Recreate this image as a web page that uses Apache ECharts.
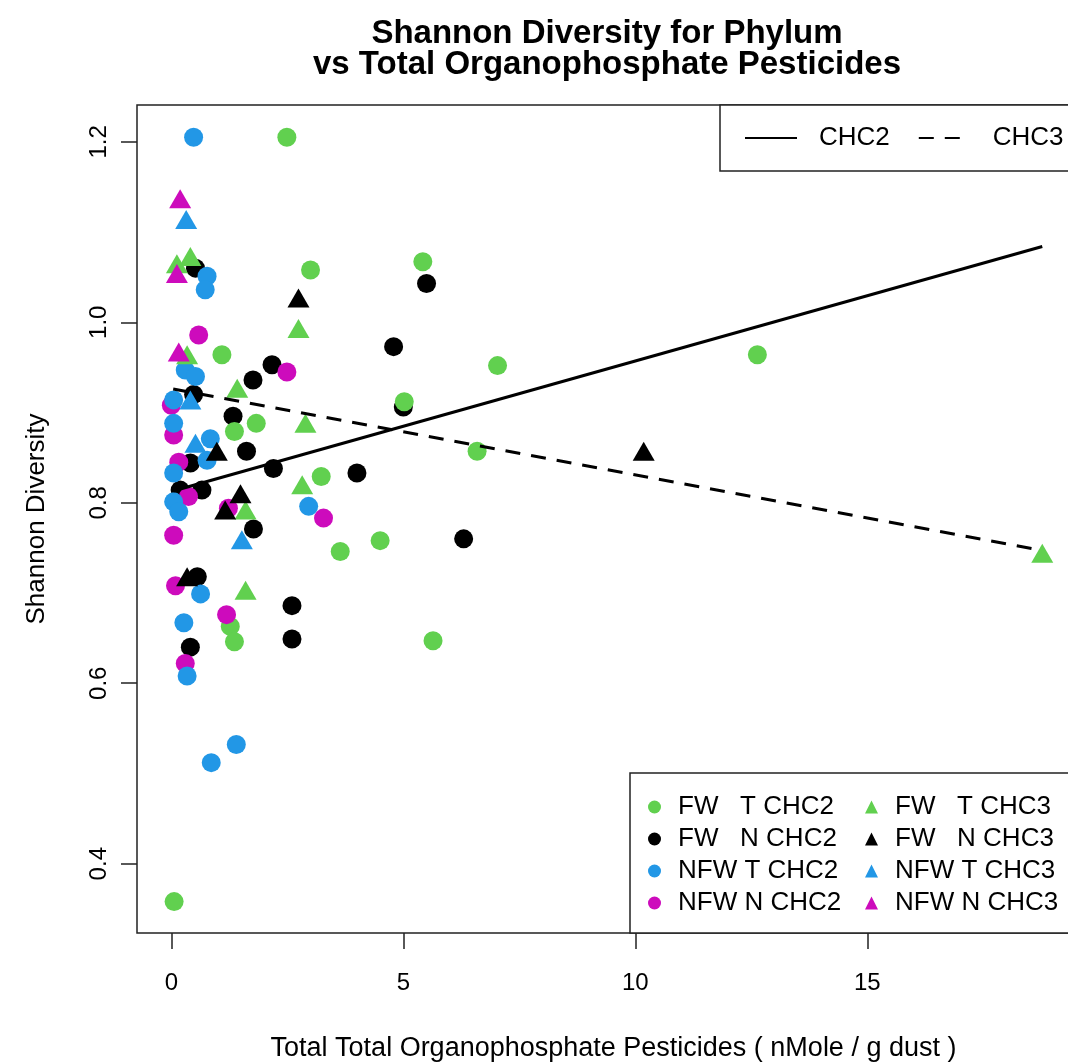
<!DOCTYPE html>
<html>
<head>
<meta charset="utf-8">
<title>Shannon Diversity for Phylum</title>
<script src="https://cdn.jsdelivr.net/npm/echarts@6/dist/echarts.min.js"></script>
<style>
    html, body { margin: 0; padding: 0; background: #fff; }
    #chart { width: 1068px; height: 1063px; }
</style>
</head>
<body>
<div id="chart"></div>
<script>
// points: [pesticides, shannon]
const fwTChc2 = [
    [0.06, 0.358], [2.49, 1.205], [3.00, 1.058], [5.42, 1.067], [12.63, 0.964],
    [7.03, 0.952], [1.09, 0.964], [1.36, 0.879], [1.83, 0.888], [3.23, 0.829],
    [5.02, 0.912], [6.59, 0.857], [3.64, 0.746], [4.50, 0.758], [5.64, 0.647],
    [1.27, 0.663], [1.36, 0.646]
];
const fwNChc2 = [
    [0.52, 1.060], [5.50, 1.043], [4.79, 0.973], [2.17, 0.953], [1.76, 0.936],
    [0.48, 0.920], [1.33, 0.896], [1.62, 0.857], [2.20, 0.838], [0.41, 0.844],
    [0.19, 0.814], [0.66, 0.814], [4.00, 0.833], [5.00, 0.906], [1.77, 0.771],
    [6.30, 0.760], [2.60, 0.686], [2.60, 0.649], [0.56, 0.718], [0.41, 0.640]
];
const nfwTChc2 = [
    [0.48, 1.205], [0.77, 1.051], [0.73, 1.036], [0.30, 0.947], [0.52, 0.940],
    [0.05, 0.914], [0.05, 0.888], [0.84, 0.871], [0.77, 0.847], [0.05, 0.833],
    [0.05, 0.801], [0.16, 0.790], [2.96, 0.796], [0.63, 0.699], [0.27, 0.667],
    [0.34, 0.608], [1.40, 0.532], [0.86, 0.512]
];
const nfwNChc2 = [
    [0.59, 0.986], [2.49, 0.945], [0.00, 0.908], [0.05, 0.875], [0.16, 0.845],
    [0.37, 0.807], [1.23, 0.794], [3.28, 0.783], [0.05, 0.764], [0.09, 0.708],
    [1.19, 0.676], [0.30, 0.622]
];
const fwTChc3 = [
    [0.41, 1.073], [0.12, 1.065], [0.34, 0.964], [2.74, 0.993], [1.42, 0.927],
    [2.89, 0.888], [2.82, 0.820], [1.60, 0.792], [1.60, 0.703], [18.77, 0.744]
];
const fwNChc3 = [
    [2.74, 1.027], [0.98, 0.857], [1.49, 0.810], [1.16, 0.792], [0.34, 0.718],
    [10.18, 0.857]
];
const nfwTChc3 = [[0.32, 1.114], [0.41, 0.914], [0.52, 0.866], [1.52, 0.759]];
const nfwNChc3 = [[0.19, 1.137], [0.12, 1.054], [0.16, 0.967]];

// fitted lines (end points)
const fitChc2 = [[0.04, 0.813], [18.77, 1.084]];
const fitChc3 = [[0.04, 0.926], [18.77, 0.747]];

const xTicks = [0, 5, 10, 15];
const yTicks = [0.4, 0.6, 0.8, 1.0, 1.2];

const FONT = "'Liberation Sans', Arial, sans-serif";
const GREEN = '#61D04F', BLACK = '#000000', BLUE = '#2297E6', MAGENTA = '#CD0BBC';

function pointSeries(name, data, color, symbol) {
    return {
        name: name,
        type: 'scatter',
        data: data,
        symbol: symbol,
        symbolSize: symbol === 'circle' ? 19 : [22, 19],
        itemStyle: { color: color, opacity: 1 },
        emphasis: { disabled: true }
    };
}

const groups = [
    ['FW   N CHC2', fwNChc2, BLACK, 'circle'],
    ['FW   T CHC2', fwTChc2, GREEN, 'circle'],
    ['NFW N CHC2', nfwNChc2, MAGENTA, 'circle'],
    ['NFW T CHC2', nfwTChc2, BLUE, 'circle'],
    ['FW   T CHC3', fwTChc3, GREEN, 'triangle'],
    ['FW   N CHC3', fwNChc3, BLACK, 'triangle'],
    ['NFW T CHC3', nfwTChc3, BLUE, 'triangle'],
    ['NFW N CHC3', nfwNChc3, MAGENTA, 'triangle']
];

const series = groups.map(g => pointSeries(g[0], g[1], g[2], g[3]));
series.push({
    name: 'CHC2', type: 'line', data: fitChc2, showSymbol: false, symbol: 'none',
    itemStyle: { color: '#000' },
    lineStyle: { color: '#000', width: 3 }, z: 5
});
series.push({
    name: 'CHC3', type: 'line', data: fitChc3, showSymbol: false, symbol: 'none',
    itemStyle: { color: '#000' },
    lineStyle: { color: '#000', width: 3, type: [15, 11] }, z: 5
});

const chart = echarts.init(document.getElementById('chart'), null, { renderer: 'canvas' });
chart.setOption({
    animation: false,
    backgroundColor: '#fff',
    textStyle: { fontFamily: FONT, color: '#000' },
    title: {
        text: 'Shannon Diversity for Phylum\nvs Total Organophosphate Pesticides',
        left: 607,
        top: 18,
        padding: 0,
        textAlign: 'center',
        textStyle: { fontFamily: FONT, fontSize: 33, fontWeight: 'bold', lineHeight: 31, color: '#000' }
    },
    grid: {
        left: 137, top: 105, width: 941, height: 828,
        outerBoundsMode: 'none',
        show: true, borderColor: '#222', borderWidth: 1.5, backgroundColor: 'transparent'
    },
    legend: [{
        // point legend, two columns
        data: ['FW   T CHC2', 'FW   T CHC3', 'FW   N CHC2', 'FW   N CHC3',
               'NFW T CHC2', 'NFW T CHC3', 'NFW N CHC2', 'NFW N CHC3'],
        orient: 'horizontal',
        left: 630, top: 773, width: 440,
        padding: [21, 30, 17, 18],
        itemGap: 6, itemWidth: 13, itemHeight: 13,
        borderColor: '#222', borderWidth: 1.5, backgroundColor: '#fff',
        selectedMode: false,
        textStyle: {
            fontFamily: FONT, fontSize: 26, lineHeight: 26, width: 181, overflow: 'none',
            padding: [0, 0, 0, 12], color: '#000'
        }
    }, {
        data: ['CHC2', 'CHC3'],
        orient: 'horizontal',
        left: 720, top: 105, width: 400,
        padding: [20, 40, 20, 24],
        itemGap: 28, itemWidth: 52, itemHeight: 26,
        borderColor: '#222', borderWidth: 1.5, backgroundColor: '#fff',
        selectedMode: false,
        itemStyle: { opacity: 0 },
        textStyle: { fontFamily: FONT, fontSize: 26, lineHeight: 26, padding: [0, 0, 0, 17], color: '#000' }
    }],
    xAxis: {
        type: 'value',
        min: -0.74, max: 19.54,
        name: 'Total Total Organophosphate Pesticides ( nMole / g dust )',
        nameLocation: 'middle',
        nameGap: 102,
        nameTextStyle: { fontFamily: FONT, fontSize: 27, color: '#000', padding: [0, 0, 0, 12] },
        axisLine: { show: false, onZero: false },
        splitLine: { show: false },
        axisTick: { show: true, customValues: xTicks, length: 16, lineStyle: { color: '#222', width: 1.5 } },
        axisLabel: { customValues: xTicks, fontFamily: FONT, fontSize: 24, color: '#000', margin: 38 }
    },
    yAxis: {
        type: 'value',
        min: 0.3232, max: 1.2408,
        name: 'Shannon Diversity',
        nameLocation: 'middle',
        nameGap: 87,
        nameTextStyle: { fontFamily: FONT, fontSize: 26, color: '#000' },
        axisLine: { show: false, onZero: false },
        splitLine: { show: false },
        axisTick: { show: true, customValues: yTicks, length: 16, lineStyle: { color: '#222', width: 1.5 } },
        axisLabel: {
            customValues: yTicks, rotate: 90, fontFamily: FONT, fontSize: 24, color: '#000', margin: 26,
            formatter: v => v.toFixed(1)
        }
    },
    series: series
});
</script>
</body>
</html>
